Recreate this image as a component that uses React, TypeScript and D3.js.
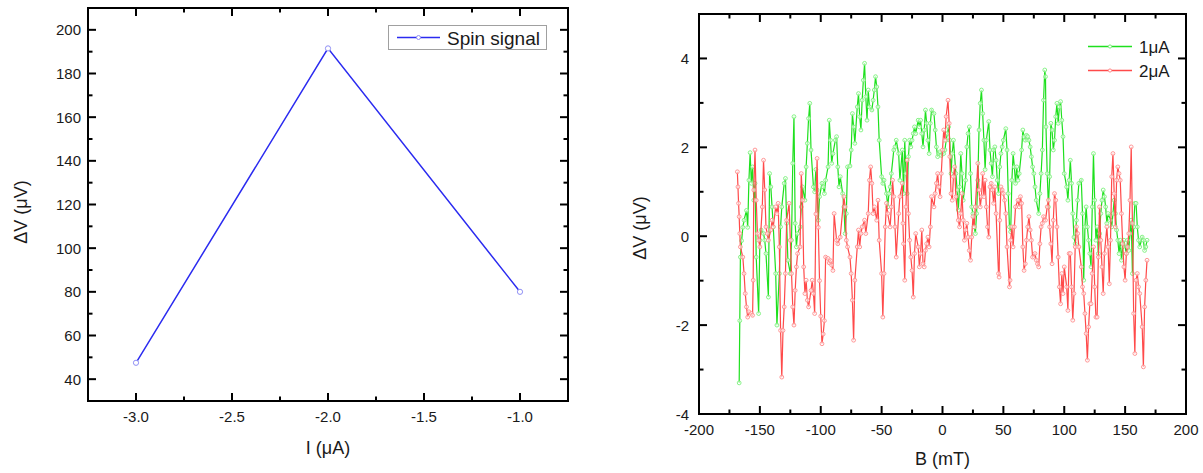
import React from 'react';
import * as d3 from 'd3';

// ---------- Left chart data ----------
const currentI = [-3.0, -2.0, -1.0];
const spinSignal = [47.5, 191.5, 80.0];
const leftXTicks = [-3.0, -2.5, -2.0, -1.5, -1.0];
const leftXMinor = [-2.75, -2.25, -1.75, -1.25];
const leftYTicks = [40, 60, 80, 100, 120, 140, 160, 180, 200];
const leftYMinor = [50, 70, 90, 110, 130, 150, 170, 190];

// ---------- Right chart data (B in mT, dV in uV) ----------
const series1uA: [number, number][] = [
  [-167, -3.3], [-166.5, -1.9], [-166, -0.47], [-165, -0.1], [-164, 0.2], [-163, 0.36], [-161, 0.58], [-160, 0.2],
  [-159, 1.26], [-158, 1.88], [-157, 1.19], [-156, 1.56], [-155, 0.81], [-154, 1.19], [-153, -0.47], [-151, -1.74],
  [-150, -0.09], [-149, 0.14], [-147, 0.06], [-146, -0.09], [-145, -0.39], [-143, -1.37], [-142, 1.41], [-141, 1.11],
  [-140, 0.66], [-139, 0.21], [-137, -0.84], [-136, -2.0], [-134, -0.84], [-133, 0.21], [-132, 0.66], [-130, 1.19],
  [-129, 1.3], [-128, 0.29], [-127, -0.54], [-125, -0.84], [-124, -0.09], [-123, 1.64], [-122, 2.69], [-121, 0.29],
  [-120, -0.24], [-119, 0.06], [-117, 0.21], [-116, 0.66], [-115, 1.11], [-113, 0.81], [-112, 1.56], [-111, 2.09],
  [-110, 2.65], [-109, 2.99], [-108, 1.94], [-106, 1.11], [-105, 1.0], [-104, 1.5], [-103, 1.04], [-102, 0.36],
  [-101, 0.89], [-99, 1.19], [-98, 1.11], [-97, 0.96], [-96, 1.26], [-94, 1.56], [-93, 2.61], [-92, 2.16],
  [-91, 1.64], [-90, 1.86], [-88, 2.16], [-87, 2.24], [-86, 1.56], [-85, 1.11], [-84, 1.34], [-82, 0.96],
  [-81, 0.66], [-80, 0.06], [-79, 0.51], [-78, 1.56], [-76, 1.58], [-75, 1.94], [-74, 2.76], [-73, 2.46],
  [-72, 2.09], [-70, 2.91], [-69, 3.21], [-68, 2.69], [-67, 2.39], [-66, 3.06], [-65, 3.51], [-64, 3.89],
  [-63, 3.14], [-62, 2.61], [-61, 3.29], [-60, 2.91], [-58, 2.84], [-57, 3.06], [-56, 3.29], [-55, 3.59],
  [-54, 3.36], [-53, 2.91], [-52, 2.16], [-50, 1.34], [-49, 1.19], [-48, 1.26], [-46, 0.96], [-45, 0.66],
  [-44, 0.96], [-43, 1.11], [-42, 1.41], [-40, 1.94], [-39, 2.01], [-38, 2.16], [-36, 1.86], [-35, 1.26],
  [-33, 1.94], [-32, 0.96], [-31, 2.16], [-30, 1.41], [-29, 0.96], [-28, 1.79], [-27, 2.16], [-26, 2.01],
  [-25, 2.16], [-24, 2.31], [-23, 2.46], [-22, 2.31], [-20, 2.61], [-19, 2.46], [-18, 2.61], [-17, 2.31],
  [-16, 2.01], [-15, 2.39], [-14, 2.84], [-13, 2.54], [-12, 2.16], [-11, 1.86], [-10, 2.54], [-9, 2.84],
  [-7, 2.76], [-6, 2.39], [-5, 2.01], [-4, 1.79], [-3, 1.86], [-2, 1.9], [-1, 1.82], [1, 1.86],
  [2, 1.94], [3, 2.16], [4, 2.31], [5, 2.46], [6, 2.16], [7, 1.41], [8, 1.86], [9, 2.16],
  [11, 1.41], [12, 1.04], [13, 0.59], [14, 1.11], [15, 1.86], [16, 1.41], [17, 0.81], [19, 1.26],
  [20, 2.01], [21, 2.31], [22, 2.46], [23, 1.41], [24, 0.66], [25, 0.51], [26, 0.21], [27, 0.06],
  [28, 0.51], [29, 1.26], [30, 2.39], [31, 2.99], [32, 3.29], [33, 2.76], [34, 2.16], [35, 1.5],
  [36, 2.16], [38, 2.58], [39, 1.94], [40, 1.64], [41, 1.34], [42, 1.94], [43, 2.01], [44, 1.71],
  [45, 1.26], [46, 0.96], [47, 1.56], [48, 1.86], [49, 2.01], [50, 2.16], [52, 2.42], [53, 1.94],
  [54, 0.96], [55, 0.21], [56, 0.1], [57, 1.26], [58, 1.86], [59, 1.56], [60, 1.19], [61, 1.56],
  [62, 1.26], [63, 1.41], [65, 1.94], [66, 2.39], [67, 2.24], [68, 2.16], [69, 2.27], [70, 2.24],
  [71, 2.16], [72, 2.01], [73, 1.79], [74, 1.56], [75, 1.41], [76, 1.11], [77, 0.81], [79, 0.51],
  [80, 0.96], [81, 1.41], [82, 1.94], [83, 3.06], [84, 3.74], [84.6, 3.59], [85, 2.46], [86, 1.41],
  [87, 0.66], [88, 1.34], [89, 2.54], [90, 2.39], [91, 1.94], [92, 2.16], [93, 2.69], [94, 2.99],
  [95, 2.54], [96, 2.91], [97, 3.03], [98, 2.61], [99, 2.24], [100, 1.41], [102, 1.11], [103, 0.81],
  [104, 1.26], [105, 1.71], [106, 1.19], [107, 0.51], [108, -0.02], [109, -0.17], [110, 0.36], [111, 0.81],
  [112, 1.19], [114, 1.26], [115, 0.51], [116, -0.99], [117, 0.21], [118, 0.66], [119, 0.21], [120, -0.09],
  [121, -0.39], [122, -0.69], [123, 0.66], [124, 1.86], [125, 0.81], [126, -0.09], [127, 0.21], [128, -0.39],
  [129, 0.06], [130, 0.51], [131, 0.81], [132, 1.04], [133, 0.89], [134, 0.66], [135, 0.29], [136, 0.51],
  [138, 0.36], [139, 0.21], [140, 0.51], [141, 0.81], [142, 0.51], [143, 0.14], [144, -0.09], [145, -0.39],
  [146, -0.09], [147, -0.54], [148, -0.24], [149, -0.09], [151, -0.39], [152, -0.09], [153, -0.32], [154, 0.06],
  [155, 0.36], [156, -0.84], [157, 0.21], [158, 0.74], [159, 0.74], [160, 0.21], [161, -0.09], [162, -0.24],
  [164, -0.02], [165, -0.09], [166, -0.32], [167, -0.24], [168, -0.09],
];

const series2uA: [number, number][] = [
  [-168.5, 1.45], [-168, 1.11], [-167.5, 0.74], [-167, 0.44], [-166.5, 0.06], [-166, -0.24], [-164, -0.47], [-163, -0.84],
  [-162, -1.29], [-161, -1.59], [-160, -1.82], [-159, -1.7], [-157, -1.74], [-156, -1.78], [-155.5, -0.99], [-155, 1.04],
  [-154, 1.94], [-153, 0.81], [-152, 0.06], [-151, -0.09], [-150, -0.24], [-148, 0.66], [-147, 1.71], [-146, 1.04],
  [-145, 0.21], [-144, 0.06], [-143, -0.09], [-141, 0.14], [-140, 0.36], [-139, 0.21], [-137, 0.66], [-136, 0.51],
  [-135, 0.74], [-134, -0.24], [-133, -2.12], [-132, -3.17], [-131, -2.12], [-130, -1.59], [-129, -0.84], [-128, 0.36],
  [-126, 0.74], [-125, -0.09], [-124, -0.84], [-123, -1.59], [-122, -2.0], [-121, -1.22], [-120, -0.69], [-119, -0.39],
  [-117, -0.24], [-116, 1.41], [-115, 0.81], [-114, -0.69], [-113, -1.29], [-112, -0.99], [-111, -1.44], [-110, -1.59],
  [-108, -1.22], [-107, -0.99], [-106, -1.29], [-105, -1.74], [-104, 0.5], [-103, 1.75], [-102, 0.2], [-101, -1.0],
  [-100, -1.8], [-99, -2.42], [-98, -2.2], [-97, -1.9], [-96, -0.47], [-94, -0.5], [-93, -0.6], [-92, -0.55],
  [-91, -0.65], [-90, -0.77], [-89, 0.51], [-87, -0.09], [-86, -0.17], [-84, -0.02], [-81, 0.89], [-80, 0.66],
  [-79, -0.09], [-78, -0.24], [-76, -0.47], [-75, -0.84], [-74, -1.44], [-73, -2.34], [-72, -0.99], [-70, -0.24],
  [-69, 0.14], [-68, -0.24], [-67, 0.06], [-66, 0.21], [-64, 0.36], [-63, 0.06], [-61, 0.51], [-60, 1.26],
  [-59, 1.56], [-58, 1.19], [-57, 0.51], [-56, 0.66], [-54, 0.36], [-53, 0.81], [-52, -0.09], [-50, -0.84],
  [-49, -1.82], [-48, -0.84], [-47, 0.21], [-46, 0.74], [-45, 0.51], [-43, 0.21], [-42, 0.66], [-41, 1.26],
  [-40, 0.89], [-39, 0.21], [-38, -0.47], [-36, 0.51], [-35, 0.89], [-33, 1.19], [-32.5, 0.29], [-32, -0.17],
  [-31, -0.99], [-30, 0.66], [-29, 1.71], [-28, 0.51], [-27, -0.09], [-26, -0.47], [-25, -0.77], [-24, -1.37],
  [-23, -0.39], [-22, 0.06], [-20, -0.24], [-19, -0.69], [-18, -0.39], [-17, 0.14], [-16, -0.62], [-15, -0.69],
  [-14, -0.32], [-13, -0.17], [-12, -0.02], [-11, -0.24], [-10, 0.21], [-9, 0.89], [-7, 0.66], [-6, 0.96],
  [-5, 1.19], [-4, 1.41], [-3, 1.11], [-2, 0.89], [-1, 1.41], [0, 1.94], [1, 2.39], [2, 2.16],
  [3, 2.69], [4.5, 3.06], [5.5, 2.54], [6, 1.79], [7, 0.96], [8, 0.81], [9, 1.34], [10, 1.56],
  [11, 0.89], [13, 0.36], [14, 0.21], [15, 0.51], [16, 0.96], [17, 0.36], [18, -0.09], [19, 0.14],
  [20, 0.29], [21, -0.02], [22, -0.32], [23, -0.54], [24, -0.02], [25, 0.44], [26, 0.21], [27, 0.66],
  [29, 1.64], [30, 1.04], [31, 0.66], [32, 0.89], [33, 1.41], [34, 0.89], [35, 1.26], [36, 0.66],
  [37, 0.21], [38, -0.02], [39, 1.11], [40, 1.19], [41, 1.04], [42, 0.74], [43, 1.11], [44, 0.51],
  [46, -0.84], [46.5, -0.92], [47, 0.36], [48, 1.11], [49, 1.04], [50, 0.96], [51, 0.81], [52, 0.51],
  [53, -0.24], [55, -1.14], [55.5, -0.99], [56, -0.09], [57, 0.21], [58, -0.24], [59, 0.21], [60, 0.66],
  [62, 0.81], [63, 0.66], [64, 0.89], [65, 0.74], [66, -0.24], [67, -0.77], [68, -0.62], [69, -0.09],
  [70, 0.21], [71, 0.44], [72, 0.14], [73, -0.09], [74, -0.47], [76, -0.39], [77, -0.54], [78, -0.62],
  [79, -0.69], [80, -0.17], [81, 0.21], [82, 0.29], [83, 0.44], [84.6, 0.36], [86, 0.66], [87, 0.81],
  [88, 0.21], [89, -0.17], [90, -0.62], [91, 0.36], [92, 0.96], [93, 0.81], [94, 0.21], [95, -0.47],
  [96, -1.14], [97, -1.52], [98, -0.84], [99, -1.29], [100, -0.69], [102, -1.14], [103, -1.67], [104, -0.39],
  [105, -0.39], [106, -1.14], [107, -1.89], [108, -1.29], [109, -0.24], [110, 0.21], [111, 0.06], [112, -0.24],
  [114, -0.69], [115, -1.14], [116, -1.29], [117, -1.74], [118, -2.19], [119, -2.79], [120, -2.04], [121, -1.52],
  [122, -1.52], [123, -0.84], [124, -0.24], [125, -1.14], [126, -1.82], [127, -1.82], [128, -0.47], [129, 0.66],
  [130, -0.09], [131, -0.69], [132, -1.29], [133, -0.39], [135, 0.21], [136, -0.24], [137, -1.07], [138, -0.09],
  [139, 1.34], [140, 1.86], [141, 0.96], [142, 0.21], [143, 1.26], [144, 1.56], [145, 1.41], [146, 1.26],
  [147, 0.51], [148, -0.17], [149, -0.69], [150, -0.99], [151, -0.39], [152, -0.24], [153, 0.06], [154, 0.81],
  [155, 2.01], [156, 0.29], [157, -1.74], [158, -2.64], [159, -0.99], [160, -0.84], [161, -1.14], [162, -1.29],
  [164, -2.04], [165, -2.94], [166, -1.59], [167, -0.99], [168, -0.54],
];

const rightXTicks = [-200, -150, -100, -50, 0, 50, 100, 150, 200];
const rightXMinor = [-175, -125, -75, -25, 25, 75, 125, 175];
const rightYTicks = [-4, -2, 0, 2, 4];
const rightYMinor = [-3, -1, 1, 3];
const legendLabels = ['1\u03bcA', '2\u03bcA'];

const FONT = '"Liberation Sans", Arial, Helvetica, sans-serif';
const TEXT = '#1a1a1a';

type FrameProps = {
  x: d3.ScaleLinear<number, number>;
  y: d3.ScaleLinear<number, number>;
  xTicks: number[];
  xMinor: number[];
  yTicks: number[];
  yMinor: number[];
  xFmt: (v: number) => string;
  yFmt: (v: number) => string;
  yLabelGap: number;
};

function Frame({ x, y, xTicks, xMinor, yTicks, yMinor, xFmt, yFmt, yLabelGap }: FrameProps) {
  const [x0, x1] = x.range();
  const [y0, y1] = y.range(); // y0 bottom, y1 top
  const MAJ = 8;
  const MIN = 4.5;
  return (
    <g>
      {xTicks.map((t) => (
        <g key={'xt' + t}>
          <line x1={x(t)} x2={x(t)} y1={y0} y2={y0 - MAJ} stroke="#000" strokeWidth={2} />
          <line x1={x(t)} x2={x(t)} y1={y1} y2={y1 + MAJ} stroke="#000" strokeWidth={2} />
          <text x={x(t)} y={y0 + 21} textAnchor="middle" fontSize={15} fill={TEXT} fontFamily={FONT}>
            {xFmt(t)}
          </text>
        </g>
      ))}
      {xMinor.map((t) => (
        <g key={'xm' + t}>
          <line x1={x(t)} x2={x(t)} y1={y0} y2={y0 - MIN} stroke="#000" strokeWidth={2} />
          <line x1={x(t)} x2={x(t)} y1={y1} y2={y1 + MIN} stroke="#000" strokeWidth={2} />
        </g>
      ))}
      {yTicks.map((t) => (
        <g key={'yt' + t}>
          <line x1={x0} x2={x0 + MAJ} y1={y(t)} y2={y(t)} stroke="#000" strokeWidth={2} />
          <line x1={x1} x2={x1 - MAJ} y1={y(t)} y2={y(t)} stroke="#000" strokeWidth={2} />
          <text x={x0 - yLabelGap} y={y(t) + 5.5} textAnchor="end" fontSize={15} fill={TEXT} fontFamily={FONT}>
            {yFmt(t)}
          </text>
        </g>
      ))}
      {yMinor.map((t) => (
        <g key={'ym' + t}>
          <line x1={x0} x2={x0 + MIN} y1={y(t)} y2={y(t)} stroke="#000" strokeWidth={2} />
          <line x1={x1} x2={x1 - MIN} y1={y(t)} y2={y(t)} stroke="#000" strokeWidth={2} />
        </g>
      ))}
      <rect x={x0} y={y1} width={x1 - x0} height={y0 - y1} fill="none" stroke="#000" strokeWidth={2} />
    </g>
  );
}

export default function App() {
  // Left chart
  const lx = d3.scaleLinear().domain([-3.25, -0.75]).range([88, 568]);
  const ly = d3.scaleLinear().domain([30, 210]).range([401, 8]);
  const leftPts = currentI.map((c, i) => [c, spinSignal[i]] as [number, number]);
  const leftLine = d3
    .line<[number, number]>()
    .x((d) => lx(d[0]))
    .y((d) => ly(d[1]))(leftPts);

  // Right chart
  const rx = d3.scaleLinear().domain([-200, 200]).range([699, 1186]);
  const ry = d3.scaleLinear().domain([-4, 5]).range([414, 14]);
  const rline = d3
    .line<[number, number]>()
    .x((d) => rx(d[0]))
    .y((d) => ry(d[1]));

  const greenLine = '#1ee01e';
  const greenMark = '#7cf07c';
  const redLine = '#ff4a4a';
  const redMark = '#ff8c8c';

  return (
    <svg
      width={1203}
      height={473}
      style={{ position: 'absolute', left: 0, top: 0, background: '#fff' }}
      fontFamily={FONT}
    >
      <rect x={0} y={0} width={1203} height={473} fill="#fff" />

      {/* ----- Left chart ----- */}
      <path d={leftLine || ''} fill="none" stroke="#2b2bf0" strokeWidth={1.5} />
      {leftPts.map((d, i) => (
        <circle key={i} cx={lx(d[0])} cy={ly(d[1])} r={2.6} fill="#fff" stroke="#8f8ff5" strokeWidth={1} />
      ))}
      <Frame
        x={lx}
        y={ly}
        xTicks={leftXTicks}
        xMinor={leftXMinor}
        yTicks={leftYTicks}
        yMinor={leftYMinor}
        xFmt={(v) => v.toFixed(1)}
        yFmt={(v) => String(v)}
        yLabelGap={7}
      />
      {/* legend */}
      <rect x={388.5} y={25.5} width={158} height={24} fill="#fff" stroke="#a0a0a0" strokeWidth={1} />
      <line x1={397} x2={440} y1={37.5} y2={37.5} stroke="#2b2bf0" strokeWidth={1.5} />
      <circle cx={418.5} cy={37.5} r={2} fill="#fff" stroke="#8f8ff5" strokeWidth={1} />
      <text x={447} y={44.5} fontSize={19} fill={TEXT}>
        Spin signal
      </text>
      {/* axis titles */}
      <text x={328} y={454} textAnchor="middle" fontSize={18} fill={TEXT}>
        I (μA)
      </text>
      <text
        transform={`translate(27,212) rotate(-90)`}
        textAnchor="middle"
        fontSize={18}
        fill={TEXT}
      >
        ΔV (μV)
      </text>

      {/* ----- Right chart ----- */}
      <path d={rline(series1uA) || ''} fill="none" stroke={greenLine} strokeWidth={1.2} />
      {series1uA.map((d, i) => (
        <circle key={'g' + i} cx={rx(d[0])} cy={ry(d[1])} r={1.9} fill="#fff" fillOpacity={0.6} stroke={greenMark} strokeWidth={0.9} />
      ))}
      <path d={rline(series2uA) || ''} fill="none" stroke={redLine} strokeWidth={1.2} />
      {series2uA.map((d, i) => (
        <circle key={'r' + i} cx={rx(d[0])} cy={ry(d[1])} r={1.9} fill="#fff" fillOpacity={0.6} stroke={redMark} strokeWidth={0.9} />
      ))}
      <Frame
        x={rx}
        y={ry}
        xTicks={rightXTicks}
        xMinor={rightXMinor}
        yTicks={rightYTicks}
        yMinor={rightYMinor}
        xFmt={(v) => String(v)}
        yFmt={(v) => String(v)}
        yLabelGap={10}
      />
      {/* legend */}
      {legendLabels.map((lab, i) => {
        const yy = 46.5 + i * 24;
        const lc = i === 0 ? greenLine : redLine;
        const mc = i === 0 ? greenMark : redMark;
        return (
          <g key={lab}>
            <line x1={1088} x2={1132} y1={yy} y2={yy} stroke={lc} strokeWidth={1.5} />
            <circle cx={1110} cy={yy} r={1.6} fill="#fff" stroke={mc} strokeWidth={1} />
            <text x={1139} y={yy + 6.5} fontSize={17} fill={TEXT}>
              {lab}
            </text>
          </g>
        );
      })}
      <text x={942.5} y={465} textAnchor="middle" fontSize={18} fill={TEXT}>
        B (mT)
      </text>
      <text
        transform={`translate(646,228) rotate(-90)`}
        textAnchor="middle"
        fontSize={18}
        fill={TEXT}
      >
        ΔV (μV)
      </text>
    </svg>
  );
}
